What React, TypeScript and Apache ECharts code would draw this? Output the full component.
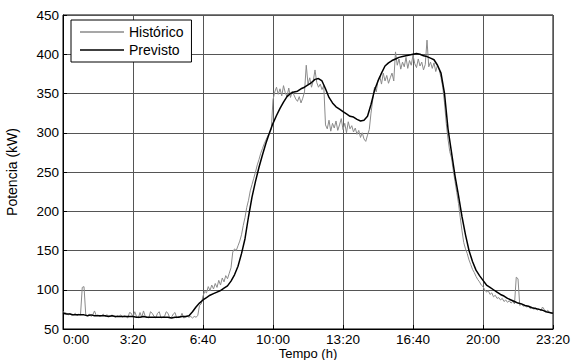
import React, { useEffect, useRef } from "react";
import * as echarts from "echarts";

// x axis: minutes since midnight, ticks every 3:20
const X_TICK_LABELS = ["0:00", "3:20", "6:40", "10:00", "13:20", "16:40", "20:00", "23:20"];
const X_TICK_STEP = 200;
const X_MAX = 1400;
const Y_MIN = 50;
const Y_MAX = 450;
const Y_STEP = 50;

const SERIES_NAMES = ["Histórico", "Previsto"];

// Histórico: one value every 5 minutes (12 per hour)
const HIST_STEP = 5;
const historico: number[] = [
  72, 71, 70, 68, 70, 67, 68, 70, 67, 69, 68, 103,
  104, 68, 67, 69, 66, 68, 73, 67, 68, 66, 67, 69,
  66, 68, 67, 66, 68, 66, 65, 67, 66, 68, 65, 67,
  66, 64, 71, 70, 65, 72, 66, 64, 71, 65, 73, 66,
  65, 64, 72, 70, 66, 64, 70, 72, 64, 65, 66, 72,
  70, 64, 65, 69, 71, 64, 66, 65, 70, 64, 65, 66,
  65, 66, 64, 66, 65, 67, 80, 82, 92, 98, 96, 104,
  99, 106, 101, 108, 103, 112, 106, 115, 110, 118, 114, 121,
  128, 148, 152, 150, 156, 162, 170, 182, 192, 205, 214, 226,
  234, 242, 250, 259, 266, 274, 280, 286, 291, 296, 300, 304,
  342, 352, 358, 349, 356, 347, 360, 351, 346, 357, 345, 353,
  348, 343, 340, 346, 338, 344, 352, 386, 362, 370, 358, 366,
  380, 364, 358, 362, 355, 360, 310, 305, 316, 302, 312, 306,
  315, 303, 310, 318, 304, 312, 300, 314, 305, 309, 301, 306,
  298, 303, 294, 300, 292, 289, 297, 304, 325, 342, 358, 352,
  367, 372, 362, 376, 366, 373, 363, 370, 376, 366, 403, 386,
  394, 381, 390, 384, 396, 382, 392, 386, 399, 388, 383, 394,
  385, 390, 380, 387, 418, 384, 390, 382, 389, 378, 386, 380,
  370, 358, 338, 312, 292, 276, 268, 252, 238, 224, 210, 192,
  175, 160, 152, 146, 138, 132, 126, 122, 117, 113, 110, 106,
  104, 100, 97, 99, 94, 96, 91, 93, 89, 90, 87, 89,
  85, 87, 84, 86, 83, 85, 82, 116, 114, 80, 82, 79,
  80, 78, 79, 76, 78, 75, 77, 74, 76, 73, 78, 75,
  72, 74, 71, 70, 69,
];

// Previsto: one value every 10 minutes (6 per hour)
const PREV_STEP = 10;
const previsto: number[] = [
  70, 69, 69, 68, 68, 68,
  68, 67, 68, 67, 67, 67,
  67, 66, 67, 66, 66, 66,
  66, 66, 66, 65, 65, 66,
  65, 65, 65, 65, 65, 65,
  65, 64, 65, 65, 66, 66,
  67, 72, 78, 83, 87, 90,
  93, 95, 97, 99, 102, 105,
  111, 119, 130, 146, 165, 193,
  218, 238, 256, 272, 287, 300,
  312, 322, 331, 339, 346, 350,
  352, 353, 356, 358, 361, 364,
  368, 369, 366, 356, 345, 338,
  333, 330, 327, 324, 321, 320,
  317, 315, 316, 321, 336, 354,
  366, 376, 385, 389, 392, 394,
  396, 397, 398, 399, 400, 401,
  400, 398, 397, 395, 393, 386,
  376, 350, 305, 275, 245, 220,
  193, 170, 150, 136, 125, 118,
  112, 106, 103, 100, 97, 94,
  92, 89, 87, 85, 83, 82,
  80, 79, 77, 76, 75, 74,
  72, 71, 70,
];

const FONT = "'Liberation Sans', Arial, Helvetica, sans-serif";
const HIST_COLOR = "#8a8a8a";
const PREV_COLOR = "#000000";

export default function App() {
  const ref = useRef<HTMLDivElement>(null);

  useEffect(() => {
    if (!ref.current) return;
    const chart = echarts.init(ref.current, null, { renderer: "svg" });
    const histData = historico.map((v, i) => [i * HIST_STEP, v]);
    const prevData = previsto.map((v, i) => [i * PREV_STEP, v]);

    chart.setOption({
      animation: false,
      backgroundColor: "#ffffff",
      textStyle: { fontFamily: FONT, color: "#000" },
      grid: {
        left: 63,
        right: 20,
        top: 15,
        bottom: 31,
        outerBoundsMode: "none",
        containLabel: false,
        show: true,
        borderColor: "#000",
        borderWidth: 1,
        backgroundColor: "transparent",
      },
      legend: {
        left: 71,
        top: 20,
        orient: "vertical",
        padding: [5, 8, 5, 9],
        itemGap: 4,
        itemWidth: 44,
        itemHeight: 1.5,
        icon: "rect",
        borderColor: "#000",
        borderWidth: 1,
        borderRadius: 0,
        backgroundColor: "#fff",
        data: [
          { name: SERIES_NAMES[0], itemStyle: { color: HIST_COLOR } },
          { name: SERIES_NAMES[1], itemStyle: { color: PREV_COLOR } },
        ],
        textStyle: { fontFamily: FONT, fontSize: 14, color: "#000" },
      },
      xAxis: {
        type: "value",
        min: 0,
        max: X_MAX,
        interval: X_TICK_STEP,
        axisLine: { show: true, lineStyle: { color: "#000", width: 1 } },
        axisTick: { show: true, inside: true, length: 4, lineStyle: { color: "#000" } },
        axisLabel: {
          formatter: (v: number) => X_TICK_LABELS[Math.round(v / X_TICK_STEP)] ?? "",
          color: "#000",
          fontSize: 13.5,
          fontFamily: FONT,
          margin: 3,
          alignMinLabel: "left",
        },
        splitLine: { show: true, lineStyle: { color: "#555", width: 1 } },
        name: "Tempo (h)",
        nameLocation: "middle",
        nameGap: 17,
        nameMoveOverlap: false,
        nameTextStyle: { color: "#000", fontSize: 13, fontFamily: FONT, lineHeight: 14 },
      },
      yAxis: {
        type: "value",
        min: Y_MIN,
        max: Y_MAX,
        interval: Y_STEP,
        axisLine: { show: true, lineStyle: { color: "#000", width: 1 } },
        axisTick: { show: true, inside: true, length: 4, lineStyle: { color: "#000" } },
        axisLabel: { color: "#000", fontSize: 13.5, fontFamily: FONT, margin: 4 },
        splitLine: { show: true, lineStyle: { color: "#555", width: 1 } },
        name: "Potencia (kW)",
        nameLocation: "middle",
        nameGap: 44,
        nameMoveOverlap: false,
        nameTextStyle: { color: "#000", fontSize: 14, fontFamily: FONT },
      },
      series: [
        {
          name: SERIES_NAMES[0],
          type: "line",
          data: histData,
          symbol: "none",
          showSymbol: false,
          lineStyle: { color: HIST_COLOR, width: 1 },
          itemStyle: { color: HIST_COLOR },
          z: 2,
        },
        {
          name: SERIES_NAMES[1],
          type: "line",
          data: prevData,
          symbol: "none",
          showSymbol: false,
          lineStyle: { color: PREV_COLOR, width: 1.5 },
          itemStyle: { color: PREV_COLOR },
          z: 3,
        },
      ],
    });

    return () => chart.dispose();
  }, []);

  return (
    <div
      ref={ref}
      style={{ position: "absolute", left: 0, top: 0, width: 573, height: 360 }}
    />
  );
}
